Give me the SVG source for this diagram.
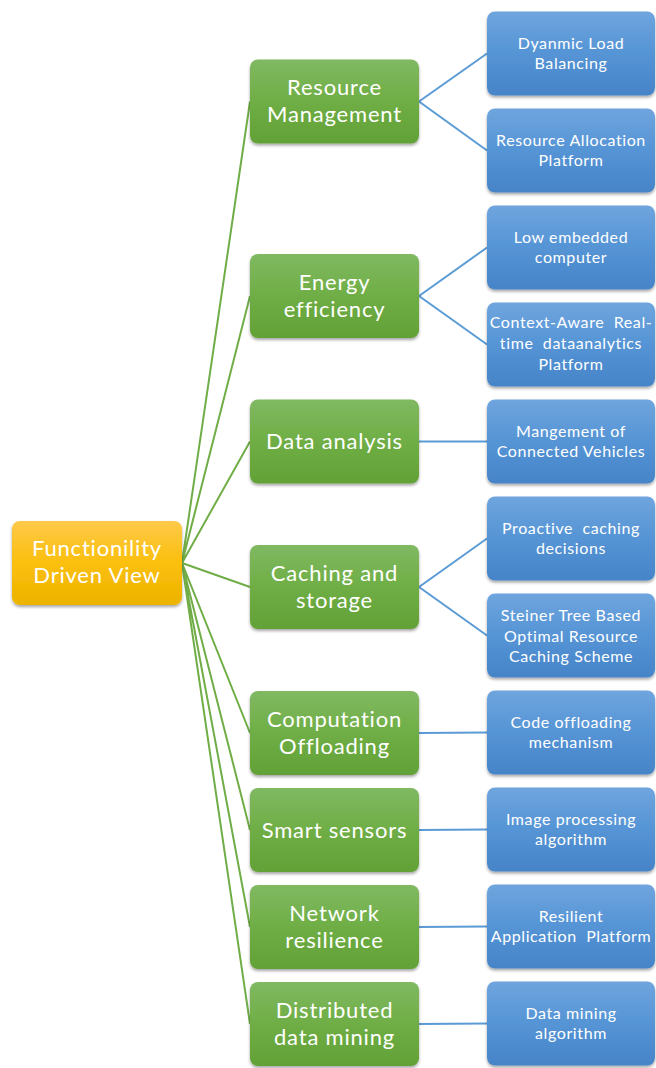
<svg xmlns="http://www.w3.org/2000/svg" width="656" height="1068" viewBox="0 0 656 1068">
<style>
text{font-family:Lato,"Open Sans","Liberation Sans",sans-serif;fill:#fff;text-anchor:middle}
.g text,.r text{font-size:22px;letter-spacing:0.8px}
.b text{font-size:16px;letter-spacing:0.6px}
.lg{stroke:#70ad47;stroke-width:2;fill:none}
.lb{stroke:#5b9bd5;stroke-width:2;fill:none}
</style>
<defs>
<linearGradient id="gg" x1="0" y1="0" x2="0" y2="1"><stop offset="0" stop-color="#80b962"/><stop offset="0.5" stop-color="#6fae45"/><stop offset="1" stop-color="#62a136"/></linearGradient>
<linearGradient id="gb" x1="0" y1="0" x2="0" y2="1"><stop offset="0" stop-color="#6fa5de"/><stop offset="0.5" stop-color="#5594d5"/><stop offset="1" stop-color="#4684c8"/></linearGradient>
<linearGradient id="go" x1="0" y1="0" x2="0" y2="1"><stop offset="0" stop-color="#fec94a"/><stop offset="0.5" stop-color="#fbbf0c"/><stop offset="1" stop-color="#ecb300"/></linearGradient>
<filter id="sh" x="-10%" y="-10%" width="120%" height="130%"><feDropShadow dx="0" dy="2" stdDeviation="1.6" flood-color="#000" flood-opacity="0.35"/></filter>
</defs>
<g id="connectors">
<path class="lg" d="M182 563L250 101.5M182 563L250 296M182 563L250 441.5M182 563L250 587M182 563L250 733M182 563L250 830M182 563L250 927M182 563L250 1024"/>
<path class="lb" d="M419 101.5L487 53.5M419 101.5L487 150.5M419 296L487 247.5M419 296L487 344.5M419 441.5L487 441.5M419 587L487 538.5M419 587L487 635.5M419 733L487 732.5M419 830L487 829.5M419 927L487 926.5M419 1024L487 1023.5"/>
</g>
<g id="root" class="r"><rect x="12" y="521" width="170" height="84" rx="8" fill="url(#go)" filter="url(#sh)"/><text x="97" y="556">Functionility</text><text x="97" y="583">Driven View</text></g>
<g id="g1" class="g"><rect x="250" y="59.5" width="169" height="84" rx="8" fill="url(#gg)" filter="url(#sh)"/><text x="334.5" y="95">Resource</text><text x="334.5" y="122">Management</text></g>
<g id="g2" class="g"><rect x="250" y="254" width="169" height="84" rx="8" fill="url(#gg)" filter="url(#sh)"/><text x="334.5" y="290">Energy</text><text x="334.5" y="317">efficiency</text></g>
<g id="g3" class="g"><rect x="250" y="399.5" width="169" height="84" rx="8" fill="url(#gg)" filter="url(#sh)"/><text x="334.5" y="449">Data analysis</text></g>
<g id="g4" class="g"><rect x="250" y="545" width="169" height="84" rx="8" fill="url(#gg)" filter="url(#sh)"/><text x="334.5" y="581">Caching and</text><text x="334.5" y="608">storage</text></g>
<g id="g5" class="g"><rect x="250" y="691" width="169" height="84" rx="8" fill="url(#gg)" filter="url(#sh)"/><text x="334.5" y="727">Computation</text><text x="334.5" y="754">Offloading</text></g>
<g id="g6" class="g"><rect x="250" y="788" width="169" height="84" rx="8" fill="url(#gg)" filter="url(#sh)"/><text x="334.5" y="838">Smart sensors</text></g>
<g id="g7" class="g"><rect x="250" y="885" width="169" height="84" rx="8" fill="url(#gg)" filter="url(#sh)"/><text x="334.5" y="921">Network</text><text x="334.5" y="948">resilience</text></g>
<g id="g8" class="g"><rect x="250" y="982" width="169" height="84" rx="8" fill="url(#gg)" filter="url(#sh)"/><text x="334.5" y="1018">Distributed</text><text x="334.5" y="1045">data mining</text></g>
<g id="b1" class="b"><rect x="487" y="11.5" width="168" height="84" rx="8" fill="url(#gb)" filter="url(#sh)"/><text x="571" y="49">Dyanmic Load</text><text x="571" y="69">Balancing</text></g>
<g id="b2" class="b"><rect x="487" y="108.5" width="168" height="84" rx="8" fill="url(#gb)" filter="url(#sh)"/><text x="571" y="146">Resource Allocation</text><text x="571" y="166">Platform</text></g>
<g id="b3" class="b"><rect x="487" y="205.5" width="168" height="84" rx="8" fill="url(#gb)" filter="url(#sh)"/><text x="571" y="243">Low embedded</text><text x="571" y="263">computer</text></g>
<g id="b4" class="b"><rect x="487" y="302.5" width="168" height="84" rx="8" fill="url(#gb)" filter="url(#sh)"/><text x="571" y="328" xml:space="preserve">Context-Aware  Real-</text><text x="571" y="349" xml:space="preserve">time  dataanalytics</text><text x="571" y="370">Platform</text></g>
<g id="b5" class="b"><rect x="487" y="399.5" width="168" height="84" rx="8" fill="url(#gb)" filter="url(#sh)"/><text x="571" y="437">Mangement of</text><text x="571" y="457">Connected Vehicles</text></g>
<g id="b6" class="b"><rect x="487" y="496.5" width="168" height="84" rx="8" fill="url(#gb)" filter="url(#sh)"/><text x="571" y="534" xml:space="preserve">Proactive  caching</text><text x="571" y="554">decisions</text></g>
<g id="b7" class="b"><rect x="487" y="593.5" width="168" height="84" rx="8" fill="url(#gb)" filter="url(#sh)"/><text x="571" y="621">Steiner Tree Based</text><text x="571" y="642">Optimal Resource</text><text x="571" y="662">Caching Scheme</text></g>
<g id="b8" class="b"><rect x="487" y="690.5" width="168" height="84" rx="8" fill="url(#gb)" filter="url(#sh)"/><text x="571" y="728">Code offloading</text><text x="571" y="748">mechanism</text></g>
<g id="b9" class="b"><rect x="487" y="787.5" width="168" height="84" rx="8" fill="url(#gb)" filter="url(#sh)"/><text x="571" y="825">Image processing</text><text x="571" y="845">algorithm</text></g>
<g id="b10" class="b"><rect x="487" y="884.5" width="168" height="84" rx="8" fill="url(#gb)" filter="url(#sh)"/><text x="571" y="922">Resilient</text><text x="571" y="942" xml:space="preserve">Application  Platform</text></g>
<g id="b11" class="b"><rect x="487" y="981.5" width="168" height="84" rx="8" fill="url(#gb)" filter="url(#sh)"/><text x="571" y="1019">Data mining</text><text x="571" y="1039">algorithm</text></g>
</svg>
